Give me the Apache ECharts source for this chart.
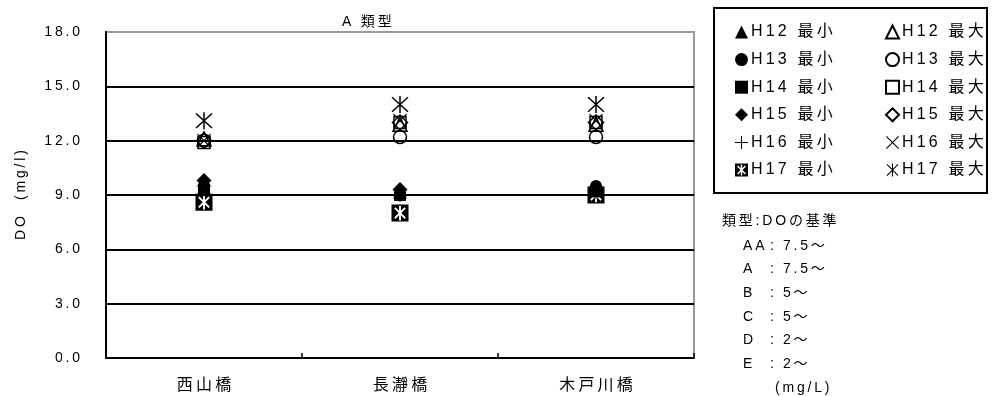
<!DOCTYPE html>
<html>
<head>
<meta charset="utf-8">
<script src="https://cdn.jsdelivr.net/npm/echarts@6/dist/echarts.min.js"></script>
<style>
	html, body { margin: 0; padding: 0; background: #fff; }
	#chart { width: 996px; height: 396px; }
</style>
</head>
<body>
<div id="chart"></div>
<script>
var categories = ['西山橋', '長瀞橋', '木戸川橋'];

// 最小
var h12Min = [9.4, 9.2, 9.4];
var h13Min = [9.5, 9.2, 9.5];
var h14Min = [9.3, 9.0, 9.2];
var h15Min = [9.8, 9.3, 9.4];
var h16Min = [9.5, 9.0, 9.2];
var h17Min = [8.6, 8.0, 9.0];

// 最大
var h12Max = [12.1, 12.9, 12.9];
var h13Max = [12.0, 12.2, 12.2];
var h14Max = [11.9, 13.0, 13.0];
var h15Max = [12.0, 13.0, 13.0];
var h16Max = [12.0, 13.1, 13.1];
var h17Max = [13.1, 14.0, 14.0];

var yTicks = [0, 3, 6, 9, 12, 15, 18];

var standardRows = [
	['AA', '7.5～'],
	['A', '7.5～'],
	['B', '5～'],
	['C', '5～'],
	['D', '2～'],
	['E', '2～']
];

var FONT = '"Liberation Sans", Arial, "Noto Sans CJK JP", sans-serif';

function sp(s){
	return s.split('').join('\u2009');
}

// thin bar as polygon
function bar(x1, y1, x2, y2, w){
	var dx = x2 - x1, dy = y2 - y1;
	var len = Math.sqrt(dx*dx + dy*dy);
	var nx = -dy / len * w / 2, ny = dx / len * w / 2;
	return 'M' + (x1+nx) + ' ' + (y1+ny) + 'L' + (x2+nx) + ' ' + (y2+ny) +
		'L' + (x2-nx) + ' ' + (y2-ny) + 'L' + (x1-nx) + ' ' + (y1-ny) + 'Z';
}

// star polygon with spokes (degrees), centre 10,10
function starPts(angles, L, w){
	var pts = [];
	var n = angles.length;
	for(var i=0;i<n;i++){
		var a = angles[i] * Math.PI / 180;
		var ux = Math.cos(a), uy = Math.sin(a);
		var px = -uy, py = ux;
		pts.push([10 + L*ux - w/2*px, 10 + L*uy - w/2*py]);
		pts.push([10 + L*ux + w/2*px, 10 + L*uy + w/2*py]);
		var b = angles[(i+1)%n] + (i+1 === n ? 360 : 0);
		var gap = (b - angles[i]) * Math.PI / 180;
		var mid = (angles[i] + b) / 2 * Math.PI / 180;
		var r = (w/2) / Math.sin(gap/2);
		pts.push([10 + r*Math.cos(mid), 10 + r*Math.sin(mid)]);
	}
	return pts;
}

var plusPath = 'path://' + bar(10, 0, 10, 20, 1.6) + bar(0, 10, 20, 10, 1.6);
var crossPath = 'path://' + bar(1, 1, 19, 19, 1.6) + bar(19, 1, 1, 19, 1.6);
var asteriskPath = 'path://' + bar(10, 0, 10, 20, 1.6) + bar(1.5, 1.5, 18.5, 18.5, 1.6) + bar(18.5, 1.5, 1.5, 18.5, 1.6);

var boxStar = starPts([-135, -90, -45, 45, 90, 135], 8.6, 2.2).reverse();
var boxXPath = 'path://M0 0L20 0L20 20L0 20Z' + 'M' + boxStar.map(function(p){
	return p[0].toFixed(2) + ' ' + p[1].toFixed(2);
}).join('L') + 'Z';

var hollow = { color: 'rgba(0,0,0,0)', borderColor: '#000', borderWidth: 1.5, opacity: 1 };
var solid = { color: '#000', borderWidth: 0, opacity: 1 };

var seriesDefs = [
	{ name: 'H12 最小', data: h12Min, symbol: 'triangle', size: 14, style: solid },
	{ name: 'H13 最小', data: h13Min, symbol: 'circle', size: 12, style: solid },
	{ name: 'H14 最小', data: h14Min, symbol: 'rect', size: 12, style: solid },
	{ name: 'H15 最小', data: h15Min, symbol: 'diamond', size: 15, style: solid },
	{ name: 'H16 最小', data: h16Min, symbol: plusPath, size: 14, style: solid },
	{ name: 'H12 最大', data: h12Max, symbol: 'triangle', size: 14, style: hollow },
	{ name: 'H13 最大', data: h13Max, symbol: 'circle', size: 13, style: hollow },
	{ name: 'H14 最大', data: h14Max, symbol: 'rect', size: 12, style: hollow },
	{ name: 'H15 最大', data: h15Max, symbol: 'diamond', size: 15, style: hollow },
	{ name: 'H16 最大', data: h16Max, symbol: crossPath, size: 14, style: solid },
	{ name: 'H17 最小', data: h17Min, symbol: boxXPath, size: 17, style: solid },
	{ name: 'H17 最大', data: h17Max, symbol: asteriskPath, size: 17, style: solid }
];

var series = seriesDefs.map(function(d){
	return {
		name: d.name,
		type: 'scatter',
		data: d.data,
		symbol: d.symbol,
		symbolSize: d.size,
		itemStyle: d.style,
		emphasis: { disabled: true },
		silent: true
	};
});

var minNames = ['H12 最小', 'H13 最小', 'H14 最小', 'H15 最小', 'H16 最小', 'H17 最小'];
var maxNames = ['H12 最大', 'H13 最大', 'H14 最大', 'H15 最大', 'H16 最大', 'H17 最大'];

function legendCol(names, left){
	return {
		data: names,
		orient: 'vertical',
		left: left,
		top: 19,
		itemWidth: 13,
		itemHeight: 13,
		itemGap: 11.6,
		selectedMode: false,
		formatter: function(name){ return sp(name); },
		textStyle: { fontFamily: FONT, fontSize: 16, color: '#000', lineHeight: 16, padding: [0, 0, 0, -2] }
	};
}

var graphics = [
	{ type: 'rect', shape: { x: 714, y: 8, width: 273, height: 185 },
		style: { fill: 'none', stroke: '#000', lineWidth: 2 }, silent: true },
	{ type: 'text', left: 722, top: 214,
		style: { text: sp('類型:DOの基準'), font: '14px ' + FONT, fill: '#000' } }
];
standardRows.forEach(function(row, i){
	var y = 239 + i * 23.6;
	graphics.push({ type: 'text', left: 743, top: y,
		style: { text: sp(row[0]), font: '14px ' + FONT, fill: '#000' } });
	graphics.push({ type: 'text', left: 770, top: y,
		style: { text: ':', font: '14px ' + FONT, fill: '#000' } });
	graphics.push({ type: 'text', left: 783, top: y,
		style: { text: sp(row[1]), font: '14px ' + FONT, fill: '#000' } });
});
graphics.push({ type: 'text', left: 775, top: 381,
	style: { text: sp('(mg/L)'), font: '14px ' + FONT, fill: '#000' } });

var option = {
	animation: false,
	backgroundColor: '#fff',
	title: {
		text: sp('A 類型'),
		left: 337,
		top: 10,
		textStyle: { fontFamily: FONT, fontSize: 14, fontWeight: 'normal', color: '#000' }
	},
	legend: [legendCol(minNames, 730), legendCol(maxNames, 880)],
	grid: {
		left: 106, right: 302, top: 32, bottom: 38,
		show: true, borderColor: '#999', borderWidth: 2, backgroundColor: '#fff'
	},
	xAxis: {
		type: 'category',
		data: categories,
		boundaryGap: true,
		axisLine: { lineStyle: { color: '#000', width: 2 } },
		axisTick: { show: true, inside: true, length: 5, lineStyle: { color: '#000', width: 1.5 } },
		axisLabel: {
			margin: 20, color: '#000', fontFamily: FONT, fontSize: 16,
			formatter: function(v){ return sp(v); }
		},
		splitLine: { show: false }
	},
	yAxis: {
		type: 'value',
		min: yTicks[0],
		max: yTicks[yTicks.length - 1],
		interval: 3,
		name: sp('DO  (mg/l)'),
		nameLocation: 'middle',
		nameGap: 78,
		nameTextStyle: { fontFamily: FONT, fontSize: 14, color: '#000' },
		axisLine: { show: true, lineStyle: { color: '#000', width: 2 } },
		axisTick: { show: false },
		axisLabel: {
			margin: 26, color: '#000', fontFamily: FONT, fontSize: 14,
			formatter: function(v){ return sp(v.toFixed(1)); }
		},
		splitLine: {
			show: true,
			lineStyle: { color: ['#000', '#000', '#000', '#000', '#000', '#000', '#999'], width: 2 }
		}
	},
	graphic: graphics,
	series: series
};

var myChart = echarts.init(document.getElementById('chart'));
myChart.setOption(option);
</script>
</body>
</html>
